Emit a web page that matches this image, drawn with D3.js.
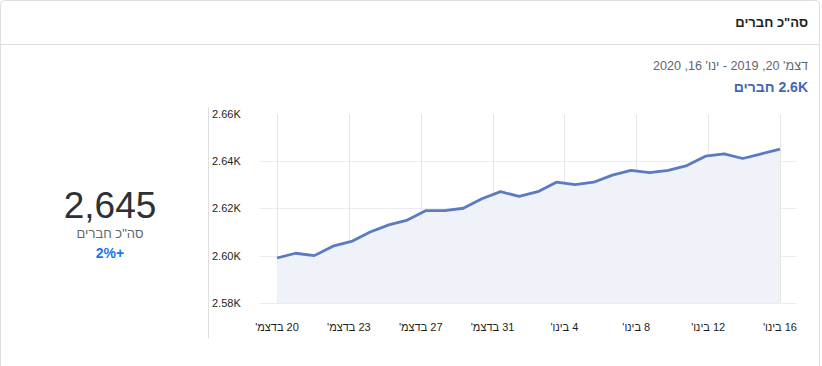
<!DOCTYPE html>
<html><head><meta charset="utf-8">
<script src="https://cdn.jsdelivr.net/npm/d3@7"></script>
<style>
html,body{margin:0;padding:0;background:#fff;}
svg{display:block;font-family:"Liberation Sans",Arial,Helvetica,sans-serif;}
</style></head>
<body>
<svg id="c" width="822" height="366"></svg>
<script>
const title = "סה\"כ חברים";
const dateRange = "דצמ' 20, 2019 - ינו' 16, 2020";
const summary = "2.6K חברים";
const bigNumber = "2,645";
const bigLabel = "סה\"כ חברים";
const change = "+2%";
const values = [2599,2601,2600,2604,2606,2610,2613,2615,2619,2619,2620,2624,2627,2625,
                2627,2631,2630,2631,2634,2636,2635,2636,2638,2642,2643,2641,2643,2645];
const xTickLabels = ["20 בדצמ'","23 בדצמ'","27 בדצמ'","31 בדצמ'","4 בינו'","8 בינו'","12 בינו'","16 בינו'"];
const yTicks = [2580,2600,2620,2640,2660];

const svg = d3.select("#c");
// card
svg.append("rect").attr("x",0.5).attr("y",0.5).attr("width",819).attr("height",370)
  .attr("rx",4).attr("fill","#fff").attr("stroke","#dddfe2");
svg.append("line").attr("x1",1).attr("x2",819).attr("y1",44.5).attr("y2",44.5).attr("stroke","#dddfe2");
svg.append("text").attr("x",808).attr("y",27).attr("direction","rtl").attr("text-anchor","start")
  .attr("font-size",13).attr("font-weight","bold").attr("fill","#1c1e21").text(title);
svg.append("text").attr("x",808).attr("y",69.5).attr("direction","rtl").attr("text-anchor","start")
  .attr("font-size",12.6).attr("fill","#606770").text(dateRange);
svg.append("text").attr("x",808).attr("y",91.5).attr("direction","rtl").attr("text-anchor","start")
  .attr("font-size",14).attr("font-weight","bold").attr("fill","#4267b2").text(summary);

// left panel
svg.append("text").attr("x",110).attr("y",218).attr("text-anchor","middle")
  .attr("font-size",37).attr("fill","#2d3035").text(bigNumber);
svg.append("text").attr("x",110).attr("y",238).attr("text-anchor","middle").attr("direction","rtl")
  .attr("font-size",13).attr("fill","#606770").text(bigLabel);
svg.append("text").attr("x",110).attr("y",258).attr("text-anchor","middle").attr("direction","rtl")
  .attr("font-size",14).attr("font-weight","bold").attr("fill","#1877f2").text(change);
svg.append("line").attr("x1",208.5).attr("x2",208.5).attr("y1",107).attr("y2",338).attr("stroke","#dddfe2");

// chart
const x = d3.scaleLinear().domain([0, values.length-1]).range([277, 780]);
const y = d3.scaleLinear().domain([2580, 2660]).range([303, 113.5]);
const g = svg.append("g");
// horizontal gridlines
g.selectAll(".hg").data(yTicks.filter(d=>d<2660)).join("line")
  .attr("x1",259).attr("x2",797).attr("y1",d=>Math.round(y(d))+0.5).attr("y2",d=>Math.round(y(d))+0.5)
  .attr("stroke","#ebedf0").attr("stroke-width",1.2);
// vertical gridlines at evenly spaced tick positions
const n = xTickLabels.length;
const xt = d3.range(n).map(i => i*(values.length-1)/(n-1));
g.selectAll(".vg").data(xt).join("line")
  .attr("x1",d=>Math.round(x(d))+0.5).attr("x2",d=>Math.round(x(d))+0.5).attr("y1",114).attr("y2",303)
  .attr("stroke","#e4e6eb");
// area
const area = d3.area().x((d,i)=>x(i)).y0(y(2580)).y1(d=>y(d));
g.append("path").datum(values).attr("d",area).attr("fill","#eef1f8").attr("opacity",0.9);
const line = d3.line().x((d,i)=>x(i)).y(d=>y(d));
g.append("path").datum(values).attr("d",line).attr("fill","none").attr("stroke","#5a7bc0")
  .attr("stroke-width",2.8).attr("stroke-linejoin","round");
// y labels
const fmt = d => (d/1000).toFixed(2)+"K";
g.selectAll(".yl").data(yTicks).join("text").attr("x",212).attr("y",d=>y(d)+4)
  .attr("font-size",11).attr("fill","#1c1e21").text(fmt);
// x labels
g.selectAll(".xl").data(xt).join("text").attr("x",d=>x(d)).attr("y",331)
  .attr("direction","rtl").attr("text-anchor","middle")
  .attr("font-size",11).attr("fill","#1c1e21").text((d,i)=>xTickLabels[i]);
</script>
</body></html>
